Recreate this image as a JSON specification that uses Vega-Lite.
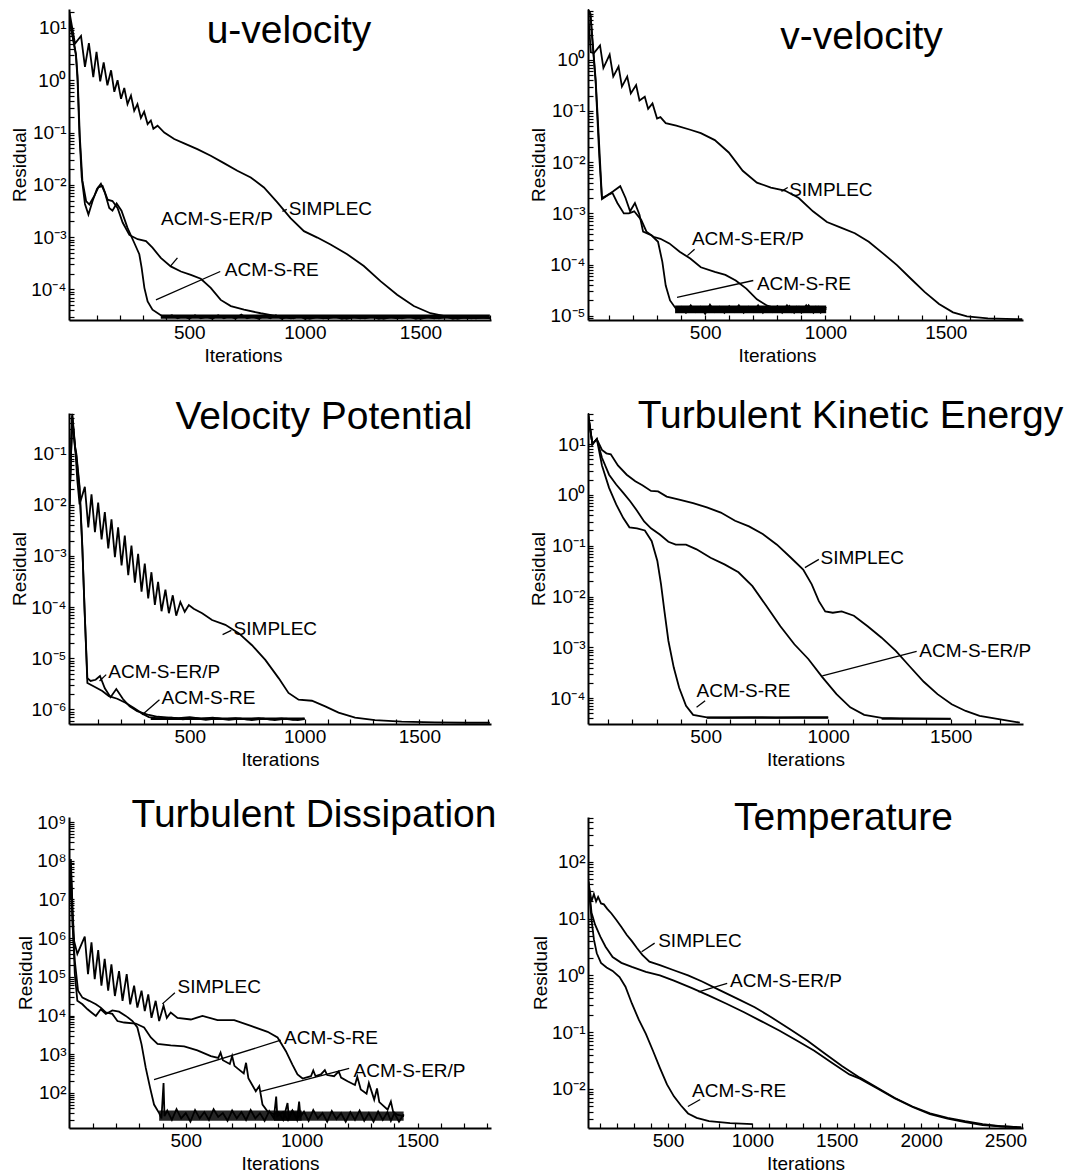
{
"$schema": "https://vega.github.io/schema/vega-lite/v6.json",
"background": "white",
"padding": {"left": 10, "top": 1, "right": 5, "bottom": 2},
"columns": 2,
"spacing": {"row": 93, "column": 97},
"bounds": "flush",
"datasets": {
"u": [
{"series":"SIMPLEC","iter":-18,"res":20},{"series":"SIMPLEC","iter":6,"res":5},{"series":"SIMPLEC","iter":32,"res":7},{"series":"SIMPLEC","iter":49,"res":1.8},{"series":"SIMPLEC","iter":66,"res":5.1},{"series":"SIMPLEC","iter":85,"res":1.15},{"series":"SIMPLEC","iter":99,"res":3.5},{"series":"SIMPLEC","iter":115,"res":0.95},{"series":"SIMPLEC","iter":130,"res":2.2},{"series":"SIMPLEC","iter":146,"res":0.8},{"series":"SIMPLEC","iter":162,"res":1.55},{"series":"SIMPLEC","iter":176,"res":0.6},{"series":"SIMPLEC","iter":190,"res":1.0},{"series":"SIMPLEC","iter":205,"res":0.44},{"series":"SIMPLEC","iter":219,"res":0.71},{"series":"SIMPLEC","iter":233,"res":0.35},{"series":"SIMPLEC","iter":248,"res":0.51},{"series":"SIMPLEC","iter":262,"res":0.26},{"series":"SIMPLEC","iter":276,"res":0.35},{"series":"SIMPLEC","iter":291,"res":0.19},{"series":"SIMPLEC","iter":305,"res":0.25},{"series":"SIMPLEC","iter":320,"res":0.145},{"series":"SIMPLEC","iter":334,"res":0.17},{"series":"SIMPLEC","iter":345,"res":0.118},{"series":"SIMPLEC","iter":363,"res":0.135},{"series":"SIMPLEC","iter":392,"res":0.1},{"series":"SIMPLEC","iter":435,"res":0.075},{"series":"SIMPLEC","iter":478,"res":0.062},{"series":"SIMPLEC","iter":535,"res":0.048},{"series":"SIMPLEC","iter":593,"res":0.036},{"series":"SIMPLEC","iter":650,"res":0.026},{"series":"SIMPLEC","iter":708,"res":0.0186},{"series":"SIMPLEC","iter":766,"res":0.0138},{"series":"SIMPLEC","iter":823,"res":0.0089},{"series":"SIMPLEC","iter":881,"res":0.0046},{"series":"SIMPLEC","iter":938,"res":0.0023},{"series":"SIMPLEC","iter":996,"res":0.0013},{"series":"SIMPLEC","iter":1054,"res":0.00098},{"series":"SIMPLEC","iter":1111,"res":0.00072},{"series":"SIMPLEC","iter":1183,"res":0.00047},{"series":"SIMPLEC","iter":1255,"res":0.00028},{"series":"SIMPLEC","iter":1327,"res":0.000144},{"series":"SIMPLEC","iter":1399,"res":7.9e-5},{"series":"SIMPLEC","iter":1471,"res":4.8e-5},{"series":"SIMPLEC","iter":1543,"res":3.5e-5},{"series":"SIMPLEC","iter":1615,"res":3.0e-5},{"series":"SIMPLEC","iter":1660,"res":2.9e-5},{"series":"SIMPLEC","iter":1710,"res":2.85e-5},{"series":"SIMPLEC","iter":1760,"res":2.9e-5},{"series":"SIMPLEC","iter":1800,"res":2.85e-5},
{"series":"RE","iter":-18,"res":15},{"series":"RE","iter":10,"res":3},{"series":"RE","iter":17,"res":1.0},{"series":"RE","iter":25,"res":0.093},{"series":"RE","iter":35,"res":0.0138},{"series":"RE","iter":49,"res":0.0043},{"series":"RE","iter":64,"res":0.0027},{"series":"RE","iter":82,"res":0.0049},{"series":"RE","iter":101,"res":0.0083},{"series":"RE","iter":118,"res":0.0105},{"series":"RE","iter":135,"res":0.0071},{"series":"RE","iter":154,"res":0.0036},{"series":"RE","iter":168,"res":0.0032},{"series":"RE","iter":186,"res":0.0044},{"series":"RE","iter":207,"res":0.0032},{"series":"RE","iter":233,"res":0.0015},{"series":"RE","iter":262,"res":0.00078},{"series":"RE","iter":284,"res":0.00047},{"series":"RE","iter":294,"res":0.00026},{"series":"RE","iter":306,"res":0.000107},{"series":"RE","iter":320,"res":5.9e-5},{"series":"RE","iter":341,"res":4.1e-5},{"series":"RE","iter":377,"res":3.2e-5},{"series":"RE","iter":400,"res":2.9e-5},{"series":"RE","iter":425,"res":3.2e-5},{"series":"RE","iter":450,"res":2.8e-5},{"series":"RE","iter":475,"res":3.1e-5},{"series":"RE","iter":500,"res":2.75e-5},{"series":"RE","iter":525,"res":3.2e-5},{"series":"RE","iter":550,"res":2.8e-5},{"series":"RE","iter":575,"res":3.0e-5},{"series":"RE","iter":600,"res":2.75e-5},{"series":"RE","iter":625,"res":3.2e-5},{"series":"RE","iter":650,"res":2.8e-5},{"series":"RE","iter":675,"res":3.1e-5},{"series":"RE","iter":700,"res":2.75e-5},{"series":"RE","iter":725,"res":3.3e-5},{"series":"RE","iter":750,"res":2.8e-5},{"series":"RE","iter":775,"res":3.0e-5},{"series":"RE","iter":800,"res":2.75e-5},{"series":"RE","iter":825,"res":3.1e-5},{"series":"RE","iter":850,"res":2.8e-5},{"series":"RE","iter":875,"res":3.2e-5},{"series":"RE","iter":900,"res":2.75e-5},{"series":"RE","iter":925,"res":3.0e-5},{"series":"RE","iter":950,"res":2.8e-5},{"series":"RE","iter":975,"res":3.1e-5},{"series":"RE","iter":1000,"res":2.75e-5},{"series":"RE","iter":1040,"res":3.0e-5},{"series":"RE","iter":1080,"res":2.8e-5},{"series":"RE","iter":1120,"res":3.1e-5},{"series":"RE","iter":1160,"res":2.75e-5},{"series":"RE","iter":1200,"res":3.0e-5},{"series":"RE","iter":1240,"res":2.8e-5},{"series":"RE","iter":1280,"res":3.1e-5},{"series":"RE","iter":1320,"res":2.75e-5},{"series":"RE","iter":1360,"res":3.0e-5},{"series":"RE","iter":1400,"res":2.8e-5},{"series":"RE","iter":1440,"res":3.1e-5},{"series":"RE","iter":1480,"res":2.75e-5},{"series":"RE","iter":1520,"res":3.0e-5},{"series":"RE","iter":1560,"res":2.8e-5},{"series":"RE","iter":1600,"res":3.1e-5},{"series":"RE","iter":1640,"res":2.75e-5},{"series":"RE","iter":1680,"res":3.0e-5},{"series":"RE","iter":1720,"res":2.8e-5},{"series":"RE","iter":1760,"res":3.0e-5},{"series":"RE","iter":1800,"res":2.8e-5},
{"series":"ERP","iter":-18,"res":15},{"series":"ERP","iter":10,"res":3.2},{"series":"ERP","iter":17,"res":1.2},{"series":"ERP","iter":27,"res":0.08},{"series":"ERP","iter":38,"res":0.012},{"series":"ERP","iter":54,"res":0.0049},{"series":"ERP","iter":68,"res":0.0042},{"series":"ERP","iter":90,"res":0.0062},{"series":"ERP","iter":107,"res":0.0089},{"series":"ERP","iter":125,"res":0.0095},{"series":"ERP","iter":147,"res":0.0052},{"series":"ERP","iter":168,"res":0.0049},{"series":"ERP","iter":190,"res":0.0036},{"series":"ERP","iter":212,"res":0.0019},{"series":"ERP","iter":241,"res":0.0011},{"series":"ERP","iter":277,"res":0.00091},{"series":"ERP","iter":313,"res":0.00084},{"series":"ERP","iter":341,"res":0.00063},{"series":"ERP","iter":377,"res":0.0004},{"series":"ERP","iter":420,"res":0.000275},{"series":"ERP","iter":464,"res":0.00022},{"series":"ERP","iter":507,"res":0.00019},{"series":"ERP","iter":550,"res":0.00016},{"series":"ERP","iter":593,"res":0.000107},{"series":"ERP","iter":636,"res":6.3e-5},{"series":"ERP","iter":680,"res":4.8e-5},{"series":"ERP","iter":737,"res":4.1e-5},{"series":"ERP","iter":809,"res":3.5e-5},{"series":"ERP","iter":860,"res":3.2e-5},{"series":"ERP","iter":900,"res":3.0e-5},{"series":"ERP","iter":940,"res":2.8e-5},{"series":"ERP","iter":980,"res":3.1e-5},{"series":"ERP","iter":1020,"res":2.75e-5},{"series":"ERP","iter":1060,"res":3.0e-5},{"series":"ERP","iter":1100,"res":2.8e-5},{"series":"ERP","iter":1140,"res":3.1e-5},{"series":"ERP","iter":1180,"res":2.75e-5},{"series":"ERP","iter":1220,"res":3.0e-5},{"series":"ERP","iter":1260,"res":2.8e-5},{"series":"ERP","iter":1300,"res":3.1e-5},{"series":"ERP","iter":1340,"res":2.75e-5},{"series":"ERP","iter":1380,"res":3.0e-5},{"series":"ERP","iter":1420,"res":2.8e-5},{"series":"ERP","iter":1460,"res":3.1e-5},{"series":"ERP","iter":1500,"res":2.75e-5},{"series":"ERP","iter":1540,"res":3.0e-5},{"series":"ERP","iter":1580,"res":2.8e-5},{"series":"ERP","iter":1620,"res":3.1e-5},{"series":"ERP","iter":1660,"res":2.75e-5},{"series":"ERP","iter":1700,"res":3.0e-5},{"series":"ERP","iter":1740,"res":2.8e-5},{"series":"ERP","iter":1780,"res":3.0e-5},{"series":"ERP","iter":1800,"res":2.8e-5}
],
"bu": [{"from":377,"to":1800,"lo":2.75e-5,"hi":3.3e-5}],
"au": [
{"label":"SIMPLEC","iter":930,"res":0.0035,"x1":903,"y1":0.0031,"x2":922,"y2":0.0034},
{"label":"ACM-S-ER/P","iter":378,"res":0.0022,"x1":418,"y1":0.000275,"x2":449,"y2":0.0004},
{"label":"ACM-S-RE","iter":654,"res":0.00024,"x1":356,"y1":6.3e-5,"x2":634,"y2":0.00022}
],
"v": [
{"series":"SIMPLEC","iter":13,"res":9.5},{"series":"SIMPLEC","iter":20,"res":3},{"series":"SIMPLEC","iter":25,"res":1.4},{"series":"SIMPLEC","iter":38,"res":1.35},{"series":"SIMPLEC","iter":63,"res":1.9},{"series":"SIMPLEC","iter":77,"res":0.69},{"series":"SIMPLEC","iter":103,"res":1.26},{"series":"SIMPLEC","iter":118,"res":0.47},{"series":"SIMPLEC","iter":140,"res":0.74},{"series":"SIMPLEC","iter":154,"res":0.3},{"series":"SIMPLEC","iter":176,"res":0.47},{"series":"SIMPLEC","iter":191,"res":0.22},{"series":"SIMPLEC","iter":213,"res":0.32},{"series":"SIMPLEC","iter":227,"res":0.16},{"series":"SIMPLEC","iter":249,"res":0.19},{"series":"SIMPLEC","iter":263,"res":0.11},{"series":"SIMPLEC","iter":281,"res":0.14},{"series":"SIMPLEC","iter":300,"res":0.071},{"series":"SIMPLEC","iter":314,"res":0.076},{"series":"SIMPLEC","iter":336,"res":0.058},{"series":"SIMPLEC","iter":380,"res":0.052},{"series":"SIMPLEC","iter":438,"res":0.043},{"series":"SIMPLEC","iter":482,"res":0.037},{"series":"SIMPLEC","iter":540,"res":0.027},{"series":"SIMPLEC","iter":598,"res":0.0155},{"series":"SIMPLEC","iter":656,"res":0.0068},{"series":"SIMPLEC","iter":715,"res":0.004},{"series":"SIMPLEC","iter":773,"res":0.0032},{"series":"SIMPLEC","iter":831,"res":0.0028},{"series":"SIMPLEC","iter":889,"res":0.002},{"series":"SIMPLEC","iter":948,"res":0.0011},{"series":"SIMPLEC","iter":1006,"res":0.00068},{"series":"SIMPLEC","iter":1064,"res":0.00053},{"series":"SIMPLEC","iter":1122,"res":0.00041},{"series":"SIMPLEC","iter":1180,"res":0.00028},{"series":"SIMPLEC","iter":1239,"res":0.000166},{"series":"SIMPLEC","iter":1297,"res":9.8e-5},{"series":"SIMPLEC","iter":1355,"res":5.3e-5},{"series":"SIMPLEC","iter":1413,"res":2.9e-5},{"series":"SIMPLEC","iter":1472,"res":1.7e-5},{"series":"SIMPLEC","iter":1530,"res":1.17e-5},{"series":"SIMPLEC","iter":1588,"res":9.8e-6},{"series":"SIMPLEC","iter":1675,"res":8.9e-6},{"series":"SIMPLEC","iter":1750,"res":8.7e-6},{"series":"SIMPLEC","iter":1818,"res":8.6e-6},
{"series":"RE","iter":13,"res":9.5},{"series":"RE","iter":23,"res":8},{"series":"RE","iter":45,"res":0.4},{"series":"RE","iter":60,"res":0.0195},{"series":"RE","iter":71,"res":0.002},{"series":"RE","iter":89,"res":0.0022},{"series":"RE","iter":118,"res":0.0027},{"series":"RE","iter":147,"res":0.0034},{"series":"RE","iter":169,"res":0.002},{"series":"RE","iter":188,"res":0.0011},{"series":"RE","iter":208,"res":0.0016},{"series":"RE","iter":227,"res":0.00094},{"series":"RE","iter":242,"res":0.00044},{"series":"RE","iter":278,"res":0.00037},{"series":"RE","iter":304,"res":0.00028},{"series":"RE","iter":322,"res":0.000113},{"series":"RE","iter":336,"res":3.9e-5},{"series":"RE","iter":354,"res":2.0e-5},{"series":"RE","iter":380,"res":1.35e-5},{"series":"RE","iter":400,"res":1.5e-5},{"series":"RE","iter":420,"res":1.15e-5},{"series":"RE","iter":440,"res":1.6e-5},{"series":"RE","iter":460,"res":1.2e-5},{"series":"RE","iter":480,"res":1.5e-5},{"series":"RE","iter":500,"res":1.1e-5},{"series":"RE","iter":520,"res":1.65e-5},{"series":"RE","iter":540,"res":1.2e-5},{"series":"RE","iter":560,"res":1.5e-5},{"series":"RE","iter":580,"res":1.15e-5},{"series":"RE","iter":600,"res":1.55e-5},{"series":"RE","iter":620,"res":1.2e-5},{"series":"RE","iter":640,"res":1.6e-5},{"series":"RE","iter":660,"res":1.15e-5},{"series":"RE","iter":680,"res":1.5e-5},{"series":"RE","iter":700,"res":1.2e-5},{"series":"RE","iter":720,"res":1.6e-5},{"series":"RE","iter":740,"res":1.15e-5},{"series":"RE","iter":760,"res":1.5e-5},{"series":"RE","iter":780,"res":1.2e-5},{"series":"RE","iter":800,"res":1.55e-5},{"series":"RE","iter":820,"res":1.15e-5},{"series":"RE","iter":840,"res":1.6e-5},{"series":"RE","iter":860,"res":1.2e-5},{"series":"RE","iter":880,"res":1.5e-5},{"series":"RE","iter":900,"res":1.15e-5},{"series":"RE","iter":920,"res":1.6e-5},{"series":"RE","iter":940,"res":1.2e-5},{"series":"RE","iter":960,"res":1.5e-5},{"series":"RE","iter":980,"res":1.15e-5},{"series":"RE","iter":1003,"res":1.5e-5},
{"series":"ERP","iter":13,"res":9.5},{"series":"ERP","iter":23,"res":7.5},{"series":"ERP","iter":45,"res":0.35},{"series":"ERP","iter":60,"res":0.0125},{"series":"ERP","iter":71,"res":0.0019},{"series":"ERP","iter":96,"res":0.0023},{"series":"ERP","iter":115,"res":0.0025},{"series":"ERP","iter":135,"res":0.0016},{"series":"ERP","iter":162,"res":0.001},{"series":"ERP","iter":183,"res":0.001},{"series":"ERP","iter":205,"res":0.0011},{"series":"ERP","iter":234,"res":0.00075},{"series":"ERP","iter":256,"res":0.00044},{"series":"ERP","iter":285,"res":0.00035},{"series":"ERP","iter":314,"res":0.00032},{"series":"ERP","iter":351,"res":0.00026},{"series":"ERP","iter":394,"res":0.000178},{"series":"ERP","iter":438,"res":0.000132},{"series":"ERP","iter":482,"res":8.9e-5},{"series":"ERP","iter":540,"res":7.2e-5},{"series":"ERP","iter":584,"res":6.3e-5},{"series":"ERP","iter":627,"res":4.9e-5},{"series":"ERP","iter":671,"res":3.4e-5},{"series":"ERP","iter":715,"res":2.1e-5},{"series":"ERP","iter":758,"res":1.58e-5},{"series":"ERP","iter":817,"res":1.3e-5},{"series":"ERP","iter":835,"res":1.2e-5},{"series":"ERP","iter":850,"res":1.55e-5},{"series":"ERP","iter":870,"res":1.15e-5},{"series":"ERP","iter":890,"res":1.5e-5},{"series":"ERP","iter":910,"res":1.2e-5},{"series":"ERP","iter":930,"res":1.6e-5},{"series":"ERP","iter":950,"res":1.15e-5},{"series":"ERP","iter":970,"res":1.5e-5},{"series":"ERP","iter":990,"res":1.2e-5},{"series":"ERP","iter":1003,"res":1.4e-5}
],
"bv": [{"from":375,"to":1003,"lo":1.12e-5,"hi":1.6e-5}],
"av": [
{"label":"SIMPLEC","iter":849,"res":0.0029,"x1":817,"y1":0.0027,"x2":843,"y2":0.0032},
{"label":"ACM-S-ER/P","iter":445,"res":0.00032,"x1":426,"y1":0.00015,"x2":456,"y2":0.0002},
{"label":"ACM-S-RE","iter":715,"res":4.2e-5,"x1":383,"y1":2.3e-5,"x2":700,"y2":4.9e-5}
],
"vp": [
{"series":"SIMPLEC","iter":-24,"res":0.01},{"series":"SIMPLEC","iter":-12,"res":0.6},{"series":"SIMPLEC","iter":0,"res":0.15},{"series":"SIMPLEC","iter":10,"res":0.031},{"series":"SIMPLEC","iter":20,"res":0.0102},{"series":"SIMPLEC","iter":43,"res":0.0224},{"series":"SIMPLEC","iter":58,"res":0.0036},{"series":"SIMPLEC","iter":72,"res":0.0159},{"series":"SIMPLEC","iter":87,"res":0.0029},{"series":"SIMPLEC","iter":101,"res":0.011},{"series":"SIMPLEC","iter":116,"res":0.0021},{"series":"SIMPLEC","iter":130,"res":0.0072},{"series":"SIMPLEC","iter":145,"res":0.0014},{"series":"SIMPLEC","iter":159,"res":0.0052},{"series":"SIMPLEC","iter":174,"res":0.00095},{"series":"SIMPLEC","iter":188,"res":0.0036},{"series":"SIMPLEC","iter":203,"res":0.00065},{"series":"SIMPLEC","iter":217,"res":0.0025},{"series":"SIMPLEC","iter":232,"res":0.00042},{"series":"SIMPLEC","iter":246,"res":0.0016},{"series":"SIMPLEC","iter":261,"res":0.0003},{"series":"SIMPLEC","iter":275,"res":0.0011},{"series":"SIMPLEC","iter":290,"res":0.0002},{"series":"SIMPLEC","iter":304,"res":0.00071},{"series":"SIMPLEC","iter":319,"res":0.000148},{"series":"SIMPLEC","iter":333,"res":0.00048},{"series":"SIMPLEC","iter":348,"res":0.00011},{"series":"SIMPLEC","iter":362,"res":0.00031},{"series":"SIMPLEC","iter":377,"res":8.3e-5},{"series":"SIMPLEC","iter":394,"res":0.00022},{"series":"SIMPLEC","iter":409,"res":7.6e-5},{"series":"SIMPLEC","iter":426,"res":0.00017},{"series":"SIMPLEC","iter":441,"res":6.8e-5},{"series":"SIMPLEC","iter":459,"res":0.000126},{"series":"SIMPLEC","iter":478,"res":8.1e-5},{"series":"SIMPLEC","iter":496,"res":0.00011},{"series":"SIMPLEC","iter":517,"res":9.3e-5},{"series":"SIMPLEC","iter":554,"res":7.6e-5},{"series":"SIMPLEC","iter":597,"res":5.6e-5},{"series":"SIMPLEC","iter":655,"res":4.5e-5},{"series":"SIMPLEC","iter":713,"res":3.1e-5},{"series":"SIMPLEC","iter":771,"res":1.8e-5},{"series":"SIMPLEC","iter":829,"res":9.3e-6},{"series":"SIMPLEC","iter":887,"res":4.1e-6},{"series":"SIMPLEC","iter":930,"res":2.1e-6},{"series":"SIMPLEC","iter":974,"res":1.55e-6},{"series":"SIMPLEC","iter":1032,"res":1.48e-6},{"series":"SIMPLEC","iter":1090,"res":1.15e-6},{"series":"SIMPLEC","iter":1148,"res":8.7e-7},{"series":"SIMPLEC","iter":1220,"res":6.9e-7},{"series":"SIMPLEC","iter":1307,"res":6.2e-7},{"series":"SIMPLEC","iter":1423,"res":5.8e-7},{"series":"SIMPLEC","iter":1568,"res":5.6e-7},{"series":"SIMPLEC","iter":1700,"res":5.5e-7},{"series":"SIMPLEC","iter":1807,"res":5.5e-7},
{"series":"ERP","iter":-24,"res":0.01},{"series":"ERP","iter":-12,"res":0.55},{"series":"ERP","iter":0,"res":0.14},{"series":"ERP","iter":6,"res":0.1},{"series":"ERP","iter":20,"res":0.023},{"series":"ERP","iter":32,"res":0.0016},{"series":"ERP","iter":42,"res":8.1e-5},{"series":"ERP","iter":54,"res":4.1e-6},{"series":"ERP","iter":68,"res":3.6e-6},{"series":"ERP","iter":90,"res":3.8e-6},{"series":"ERP","iter":109,"res":4.5e-6},{"series":"ERP","iter":130,"res":2.6e-6},{"series":"ERP","iter":155,"res":1.74e-6},{"series":"ERP","iter":180,"res":2.5e-6},{"series":"ERP","iter":209,"res":1.6e-6},{"series":"ERP","iter":238,"res":1.15e-6},{"series":"ERP","iter":271,"res":9.3e-7},{"series":"ERP","iter":322,"res":7.8e-7},{"series":"ERP","iter":360,"res":7.2e-7},{"series":"ERP","iter":400,"res":7.0e-7},{"series":"ERP","iter":450,"res":6.8e-7},{"series":"ERP","iter":500,"res":7.1e-7},{"series":"ERP","iter":550,"res":6.6e-7},{"series":"ERP","iter":600,"res":6.9e-7},{"series":"ERP","iter":650,"res":6.5e-7},{"series":"ERP","iter":700,"res":6.8e-7},{"series":"ERP","iter":750,"res":6.4e-7},{"series":"ERP","iter":800,"res":6.8e-7},{"series":"ERP","iter":850,"res":6.4e-7},{"series":"ERP","iter":900,"res":6.7e-7},{"series":"ERP","iter":950,"res":6.3e-7},{"series":"ERP","iter":1000,"res":6.6e-7},
{"series":"RE","iter":-24,"res":0.01},{"series":"RE","iter":-12,"res":0.5},{"series":"RE","iter":0,"res":0.13},{"series":"RE","iter":6,"res":0.09},{"series":"RE","iter":20,"res":0.02},{"series":"RE","iter":32,"res":0.0014},{"series":"RE","iter":42,"res":9e-5},{"series":"RE","iter":54,"res":3.3e-6},{"series":"RE","iter":83,"res":2.8e-6},{"series":"RE","iter":119,"res":2.3e-6},{"series":"RE","iter":148,"res":1.82e-6},{"series":"RE","iter":184,"res":1.62e-6},{"series":"RE","iter":220,"res":1.35e-6},{"series":"RE","iter":257,"res":1.07e-6},{"series":"RE","iter":293,"res":8.3e-7},{"series":"RE","iter":322,"res":7.1e-7},{"series":"RE","iter":370,"res":6.6e-7},{"series":"RE","iter":420,"res":6.9e-7},{"series":"RE","iter":470,"res":6.4e-7},{"series":"RE","iter":520,"res":6.8e-7},{"series":"RE","iter":570,"res":6.3e-7},{"series":"RE","iter":620,"res":6.7e-7},{"series":"RE","iter":670,"res":6.3e-7},{"series":"RE","iter":720,"res":6.6e-7},{"series":"RE","iter":770,"res":6.2e-7},{"series":"RE","iter":820,"res":6.6e-7},{"series":"RE","iter":870,"res":6.2e-7},{"series":"RE","iter":920,"res":6.6e-7},{"series":"RE","iter":970,"res":6.2e-7},{"series":"RE","iter":1000,"res":6.5e-7}
],
"bvp": [{"from":330,"to":1000,"lo":6.2e-7,"hi":7.0e-7}],
"avp": [
{"label":"SIMPLEC","iter":691,"res":3.8e-5,"x1":643,"y1":2.9e-5,"x2":681,"y2":3.5e-5},
{"label":"ACM-S-ER/P","iter":145,"res":5.5e-6,"x1":107,"y1":3.6e-6,"x2":136,"y2":4.8e-6},
{"label":"ACM-S-RE","iter":377,"res":1.7e-6,"x1":293,"y1":7.9e-7,"x2":368,"y2":1.55e-6}
],
"tke": [
{"series":"SIMPLEC","iter":20,"res":40},{"series":"SIMPLEC","iter":38,"res":10},{"series":"SIMPLEC","iter":56,"res":12.6},{"series":"SIMPLEC","iter":77,"res":7.7},{"series":"SIMPLEC","iter":95,"res":6.6},{"series":"SIMPLEC","iter":113,"res":6.3},{"series":"SIMPLEC","iter":142,"res":3.8},{"series":"SIMPLEC","iter":178,"res":2.5},{"series":"SIMPLEC","iter":213,"res":1.86},{"series":"SIMPLEC","iter":242,"res":1.55},{"series":"SIMPLEC","iter":277,"res":1.2},{"series":"SIMPLEC","iter":306,"res":1.17},{"series":"SIMPLEC","iter":341,"res":0.93},{"series":"SIMPLEC","iter":392,"res":0.81},{"series":"SIMPLEC","iter":449,"res":0.69},{"series":"SIMPLEC","iter":505,"res":0.57},{"series":"SIMPLEC","iter":562,"res":0.45},{"series":"SIMPLEC","iter":620,"res":0.31},{"series":"SIMPLEC","iter":677,"res":0.24},{"series":"SIMPLEC","iter":733,"res":0.17},{"series":"SIMPLEC","iter":791,"res":0.105},{"series":"SIMPLEC","iter":848,"res":0.058},{"series":"SIMPLEC","iter":898,"res":0.034},{"series":"SIMPLEC","iter":933,"res":0.0174},{"series":"SIMPLEC","iter":962,"res":0.0081},{"series":"SIMPLEC","iter":988,"res":0.0051},{"series":"SIMPLEC","iter":1019,"res":0.0048},{"series":"SIMPLEC","iter":1055,"res":0.0051},{"series":"SIMPLEC","iter":1105,"res":0.0042},{"series":"SIMPLEC","iter":1161,"res":0.0026},{"series":"SIMPLEC","iter":1218,"res":0.00155},{"series":"SIMPLEC","iter":1276,"res":0.00085},{"series":"SIMPLEC","iter":1333,"res":0.00042},{"series":"SIMPLEC","iter":1390,"res":0.00021},{"series":"SIMPLEC","iter":1446,"res":0.00012},{"series":"SIMPLEC","iter":1504,"res":7.6e-5},{"series":"SIMPLEC","iter":1561,"res":5.6e-5},{"series":"SIMPLEC","iter":1618,"res":4.5e-5},{"series":"SIMPLEC","iter":1690,"res":3.9e-5},{"series":"SIMPLEC","iter":1782,"res":3.3e-5},
{"series":"ERP","iter":20,"res":40},{"series":"ERP","iter":38,"res":10},{"series":"ERP","iter":56,"res":12.6},{"series":"ERP","iter":77,"res":5.4},{"series":"ERP","iter":106,"res":2.5},{"series":"ERP","iter":135,"res":1.6},{"series":"ERP","iter":164,"res":1.1},{"series":"ERP","iter":192,"res":0.75},{"series":"ERP","iter":220,"res":0.49},{"series":"ERP","iter":249,"res":0.3},{"series":"ERP","iter":277,"res":0.22},{"series":"ERP","iter":313,"res":0.166},{"series":"ERP","iter":348,"res":0.12},{"series":"ERP","iter":378,"res":0.105},{"series":"ERP","iter":420,"res":0.105},{"series":"ERP","iter":463,"res":0.085},{"series":"ERP","iter":520,"res":0.058},{"series":"ERP","iter":577,"res":0.043},{"series":"ERP","iter":634,"res":0.03},{"series":"ERP","iter":691,"res":0.016},{"series":"ERP","iter":748,"res":0.0065},{"series":"ERP","iter":805,"res":0.0026},{"series":"ERP","iter":862,"res":0.00115},{"series":"ERP","iter":919,"res":0.00059},{"series":"ERP","iter":976,"res":0.00026},{"series":"ERP","iter":1034,"res":0.00012},{"series":"ERP","iter":1090,"res":6.6e-5},{"series":"ERP","iter":1147,"res":4.7e-5},{"series":"ERP","iter":1218,"res":4.1e-5},{"series":"ERP","iter":1293,"res":4.0e-5},{"series":"ERP","iter":1395,"res":3.95e-5},{"series":"ERP","iter":1500,"res":3.9e-5},
{"series":"RE","iter":20,"res":40},{"series":"RE","iter":38,"res":10},{"series":"RE","iter":56,"res":12.6},{"series":"RE","iter":77,"res":3.8},{"series":"RE","iter":106,"res":1.38},{"series":"RE","iter":135,"res":0.65},{"series":"RE","iter":164,"res":0.35},{"series":"RE","iter":189,"res":0.23},{"series":"RE","iter":220,"res":0.22},{"series":"RE","iter":252,"res":0.2},{"series":"RE","iter":280,"res":0.123},{"series":"RE","iter":303,"res":0.05},{"series":"RE","iter":318,"res":0.0174},{"series":"RE","iter":332,"res":0.0051},{"series":"RE","iter":348,"res":0.00135},{"series":"RE","iter":370,"res":0.0004},{"series":"RE","iter":392,"res":0.00016},{"series":"RE","iter":420,"res":7.1e-5},{"series":"RE","iter":449,"res":4.7e-5},{"series":"RE","iter":505,"res":4.2e-5},{"series":"RE","iter":583,"res":4.15e-5},{"series":"RE","iter":685,"res":4.2e-5},{"series":"RE","iter":786,"res":4.15e-5},{"series":"RE","iter":888,"res":4.2e-5},{"series":"RE","iter":1000,"res":4.2e-5}
],
"btke": [{"from":505,"to":1000,"lo":3.95e-5,"hi":4.35e-5},{"from":1218,"to":1500,"lo":3.75e-5,"hi":4.1e-5}],
"atke": [
{"label":"SIMPLEC","iter":969,"res":0.058,"x1":905,"y1":0.037,"x2":962,"y2":0.054},
{"label":"ACM-S-ER/P","iter":1372,"res":0.00083,"x1":976,"y1":0.000275,"x2":1361,"y2":0.00083},
{"label":"ACM-S-RE","iter":463,"res":0.000138,"x1":463,"y1":6.6e-5,"x2":498,"y2":8.9e-5}
],
"td": [
{"series":"SIMPLEC","iter":0,"res":2e7},{"series":"SIMPLEC","iter":4,"res":1.1e8},{"series":"SIMPLEC","iter":11,"res":6.3e6},{"series":"SIMPLEC","iter":18,"res":8.5e5},{"series":"SIMPLEC","iter":32,"res":3.9e5},{"series":"SIMPLEC","iter":50,"res":7.0e5},{"series":"SIMPLEC","iter":64,"res":1.1e6},{"series":"SIMPLEC","iter":78,"res":1.17e5},{"series":"SIMPLEC","iter":93,"res":7.8e5},{"series":"SIMPLEC","iter":107,"res":8.7e4},{"series":"SIMPLEC","iter":122,"res":4.9e5},{"series":"SIMPLEC","iter":136,"res":5.9e4},{"series":"SIMPLEC","iter":150,"res":2.9e5},{"series":"SIMPLEC","iter":165,"res":4.4e4},{"series":"SIMPLEC","iter":179,"res":2.1e5},{"series":"SIMPLEC","iter":194,"res":3.2e4},{"series":"SIMPLEC","iter":212,"res":1.4e5},{"series":"SIMPLEC","iter":227,"res":2.4e4},{"series":"SIMPLEC","iter":245,"res":1.17e5},{"series":"SIMPLEC","iter":260,"res":1.95e4},{"series":"SIMPLEC","iter":277,"res":5.9e4},{"series":"SIMPLEC","iter":291,"res":1.6e4},{"series":"SIMPLEC","iter":309,"res":4.4e4},{"series":"SIMPLEC","iter":323,"res":1.3e4},{"series":"SIMPLEC","iter":338,"res":3.5e4},{"series":"SIMPLEC","iter":352,"res":8.7e3},{"series":"SIMPLEC","iter":370,"res":2.4e4},{"series":"SIMPLEC","iter":385,"res":7.2e3},{"series":"SIMPLEC","iter":404,"res":1.8e4},{"series":"SIMPLEC","iter":418,"res":8.7e3},{"series":"SIMPLEC","iter":435,"res":1.2e4},{"series":"SIMPLEC","iter":464,"res":8.7e3},{"series":"SIMPLEC","iter":522,"res":7.9e3},{"series":"SIMPLEC","iter":572,"res":9.8e3},{"series":"SIMPLEC","iter":637,"res":7.6e3},{"series":"SIMPLEC","iter":709,"res":7.6e3},{"series":"SIMPLEC","iter":781,"res":5.4e3},{"series":"SIMPLEC","iter":853,"res":3.8e3},{"series":"SIMPLEC","iter":896,"res":2.7e3},{"series":"SIMPLEC","iter":932,"res":1.2e3},{"series":"SIMPLEC","iter":960,"res":540},{"series":"SIMPLEC","iter":982,"res":300},{"series":"SIMPLEC","iter":1004,"res":235},{"series":"SIMPLEC","iter":1040,"res":270},{"series":"SIMPLEC","iter":1050,"res":380},{"series":"SIMPLEC","iter":1060,"res":270},{"series":"SIMPLEC","iter":1083,"res":300},{"series":"SIMPLEC","iter":1100,"res":390},{"series":"SIMPLEC","iter":1110,"res":290},{"series":"SIMPLEC","iter":1140,"res":270},{"series":"SIMPLEC","iter":1160,"res":360},{"series":"SIMPLEC","iter":1170,"res":250},{"series":"SIMPLEC","iter":1198,"res":200},{"series":"SIMPLEC","iter":1230,"res":160},{"series":"SIMPLEC","iter":1240,"res":260},{"series":"SIMPLEC","iter":1255,"res":122},{"series":"SIMPLEC","iter":1280,"res":95},{"series":"SIMPLEC","iter":1290,"res":180},{"series":"SIMPLEC","iter":1313,"res":67},{"series":"SIMPLEC","iter":1325,"res":130},{"series":"SIMPLEC","iter":1335,"res":58},{"series":"SIMPLEC","iter":1371,"res":37},{"series":"SIMPLEC","iter":1385,"res":60},{"series":"SIMPLEC","iter":1395,"res":32},{"series":"SIMPLEC","iter":1414,"res":27},{"series":"SIMPLEC","iter":1442,"res":25},
{"series":"ERP","iter":0,"res":1e7},{"series":"ERP","iter":4,"res":4.6e7},{"series":"ERP","iter":11,"res":2.3e6},{"series":"ERP","iter":21,"res":2.6e5},{"series":"ERP","iter":35,"res":4.4e4},{"series":"ERP","iter":54,"res":2.9e4},{"series":"ERP","iter":83,"res":2.4e4},{"series":"ERP","iter":112,"res":1.95e4},{"series":"ERP","iter":133,"res":1.6e4},{"series":"ERP","iter":155,"res":1.2e4},{"series":"ERP","iter":183,"res":1.1e4},{"series":"ERP","iter":205,"res":7.2e3},{"series":"ERP","iter":234,"res":6.6e3},{"series":"ERP","iter":284,"res":6.2e3},{"series":"ERP","iter":320,"res":4.9e3},{"series":"ERP","iter":349,"res":2.7e3},{"series":"ERP","iter":378,"res":1.86e3},{"series":"ERP","iter":435,"res":1.7e3},{"series":"ERP","iter":493,"res":1.6e3},{"series":"ERP","iter":550,"res":1.26e3},{"series":"ERP","iter":608,"res":890},{"series":"ERP","iter":640,"res":800},{"series":"ERP","iter":650,"res":1100},{"series":"ERP","iter":660,"res":700},{"series":"ERP","iter":690,"res":560},{"series":"ERP","iter":700,"res":900},{"series":"ERP","iter":710,"res":500},{"series":"ERP","iter":723,"res":430},{"series":"ERP","iter":750,"res":320},{"series":"ERP","iter":760,"res":600},{"series":"ERP","iter":770,"res":240},{"series":"ERP","iter":802,"res":110},{"series":"ERP","iter":817,"res":150},{"series":"ERP","iter":825,"res":80},{"series":"ERP","iter":831,"res":50},{"series":"ERP","iter":853,"res":33},{"series":"ERP","iter":881,"res":28},{"series":"ERP","iter":900,"res":32},{"series":"ERP","iter":920,"res":20},{"series":"ERP","iter":939,"res":55},{"series":"ERP","iter":945,"res":22},{"series":"ERP","iter":960,"res":35},{"series":"ERP","iter":980,"res":20},{"series":"ERP","iter":989,"res":60},{"series":"ERP","iter":995,"res":24},{"series":"ERP","iter":1010,"res":33},{"series":"ERP","iter":1030,"res":19},{"series":"ERP","iter":1050,"res":36},{"series":"ERP","iter":1070,"res":22},{"series":"ERP","iter":1090,"res":30},{"series":"ERP","iter":1110,"res":18},{"series":"ERP","iter":1130,"res":34},{"series":"ERP","iter":1150,"res":21},{"series":"ERP","iter":1170,"res":30},{"series":"ERP","iter":1190,"res":18},{"series":"ERP","iter":1210,"res":32},{"series":"ERP","iter":1230,"res":20},{"series":"ERP","iter":1250,"res":35},{"series":"ERP","iter":1270,"res":19},{"series":"ERP","iter":1290,"res":30},{"series":"ERP","iter":1310,"res":18},{"series":"ERP","iter":1330,"res":33},{"series":"ERP","iter":1350,"res":20},{"series":"ERP","iter":1370,"res":32},{"series":"ERP","iter":1385,"res":19},{"series":"ERP","iter":1400,"res":30},{"series":"ERP","iter":1420,"res":18},{"series":"ERP","iter":1440,"res":28},
{"series":"RE","iter":0,"res":3e7},{"series":"RE","iter":4,"res":6.8e7},{"series":"RE","iter":11,"res":4.2e6},{"series":"RE","iter":21,"res":1.2e5},{"series":"RE","iter":32,"res":2.4e4},{"series":"RE","iter":54,"res":1.95e4},{"series":"RE","iter":76,"res":1.45e4},{"series":"RE","iter":93,"res":1.2e4},{"series":"RE","iter":112,"res":9.8e3},{"series":"RE","iter":133,"res":1.45e4},{"series":"RE","iter":155,"res":1.1e4},{"series":"RE","iter":183,"res":1.36e4},{"series":"RE","iter":212,"res":1.26e4},{"series":"RE","iter":241,"res":9.8e3},{"series":"RE","iter":270,"res":7.2e3},{"series":"RE","iter":291,"res":4.9e3},{"series":"RE","iter":309,"res":1.8e3},{"series":"RE","iter":327,"res":450},{"series":"RE","iter":346,"res":135},{"series":"RE","iter":363,"res":50},{"series":"RE","iter":385,"res":30},{"series":"RE","iter":395,"res":22},{"series":"RE","iter":404,"res":180},{"series":"RE","iter":408,"res":25},{"series":"RE","iter":420,"res":35},{"series":"RE","iter":440,"res":20},{"series":"RE","iter":460,"res":38},{"series":"RE","iter":480,"res":22},{"series":"RE","iter":500,"res":30},{"series":"RE","iter":520,"res":18},{"series":"RE","iter":540,"res":36},{"series":"RE","iter":560,"res":22},{"series":"RE","iter":580,"res":32},{"series":"RE","iter":600,"res":20},{"series":"RE","iter":620,"res":38},{"series":"RE","iter":640,"res":24},{"series":"RE","iter":660,"res":30},{"series":"RE","iter":680,"res":19},{"series":"RE","iter":700,"res":35},{"series":"RE","iter":720,"res":22},{"series":"RE","iter":740,"res":32},{"series":"RE","iter":760,"res":20},{"series":"RE","iter":780,"res":36},{"series":"RE","iter":800,"res":22},{"series":"RE","iter":820,"res":30},{"series":"RE","iter":840,"res":19},{"series":"RE","iter":860,"res":34},{"series":"RE","iter":880,"res":22},{"series":"RE","iter":890,"res":80},{"series":"RE","iter":895,"res":25},{"series":"RE","iter":920,"res":32},{"series":"RE","iter":940,"res":20},{"series":"RE","iter":960,"res":35},{"series":"RE","iter":980,"res":22},{"series":"RE","iter":1000,"res":30}
],
"btd": [{"from":385,"to":1000,"lo":19,"hi":35},{"from":881,"to":1440,"lo":19,"hi":33}],
"atd": [
{"label":"SIMPLEC","iter":464,"res":5.3e4,"x1":399,"y1":2.0e4,"x2":453,"y2":3.9e4},
{"label":"ACM-S-RE","iter":924,"res":2700,"x1":363,"y1":220,"x2":910,"y2":2300},
{"label":"ACM-S-ER/P","iter":1224,"res":365,"x1":824,"y1":110,"x2":1205,"y2":430}
],
"t": [
{"series":"SIMPLEC","iter":28,"res":45},{"series":"SIMPLEC","iter":47,"res":20},{"series":"SIMPLEC","iter":61,"res":27},{"series":"SIMPLEC","iter":74,"res":20},{"series":"SIMPLEC","iter":86,"res":24},{"series":"SIMPLEC","iter":103,"res":18.5},{"series":"SIMPLEC","iter":120,"res":17.8},{"series":"SIMPLEC","iter":140,"res":14.8},{"series":"SIMPLEC","iter":165,"res":12.3},{"series":"SIMPLEC","iter":192,"res":9.6},{"series":"SIMPLEC","iter":224,"res":7.1},{"series":"SIMPLEC","iter":255,"res":5.2},{"series":"SIMPLEC","iter":286,"res":4.0},{"series":"SIMPLEC","iter":317,"res":3.0},{"series":"SIMPLEC","iter":348,"res":2.3},{"series":"SIMPLEC","iter":390,"res":1.74},{"series":"SIMPLEC","iter":452,"res":1.51},{"series":"SIMPLEC","iter":535,"res":1.23},{"series":"SIMPLEC","iter":619,"res":1.0},{"series":"SIMPLEC","iter":702,"res":0.78},{"series":"SIMPLEC","iter":806,"res":0.55},{"series":"SIMPLEC","iter":910,"res":0.39},{"series":"SIMPLEC","iter":1014,"res":0.275},{"series":"SIMPLEC","iter":1117,"res":0.18},{"series":"SIMPLEC","iter":1221,"res":0.114},{"series":"SIMPLEC","iter":1325,"res":0.071},{"series":"SIMPLEC","iter":1429,"res":0.042},{"series":"SIMPLEC","iter":1533,"res":0.025},{"series":"SIMPLEC","iter":1637,"res":0.0158},{"series":"SIMPLEC","iter":1741,"res":0.0105},{"series":"SIMPLEC","iter":1845,"res":0.0069},{"series":"SIMPLEC","iter":1949,"res":0.0049},{"series":"SIMPLEC","iter":2053,"res":0.0037},{"series":"SIMPLEC","iter":2157,"res":0.0031},{"series":"SIMPLEC","iter":2261,"res":0.0027},{"series":"SIMPLEC","iter":2365,"res":0.0024},{"series":"SIMPLEC","iter":2469,"res":0.0022},{"series":"SIMPLEC","iter":2594,"res":0.0021},
{"series":"ERP","iter":28,"res":45},{"series":"ERP","iter":47,"res":12.6},{"series":"ERP","iter":68,"res":7.8},{"series":"ERP","iter":99,"res":4.8},{"series":"ERP","iter":130,"res":3.2},{"series":"ERP","iter":172,"res":2.1},{"series":"ERP","iter":224,"res":1.66},{"series":"ERP","iter":286,"res":1.41},{"series":"ERP","iter":369,"res":1.15},{"series":"ERP","iter":452,"res":1.0},{"series":"ERP","iter":535,"res":0.81},{"series":"ERP","iter":639,"res":0.6},{"series":"ERP","iter":743,"res":0.44},{"series":"ERP","iter":847,"res":0.316},{"series":"ERP","iter":951,"res":0.224},{"series":"ERP","iter":1055,"res":0.155},{"series":"ERP","iter":1159,"res":0.107},{"series":"ERP","iter":1263,"res":0.071},{"series":"ERP","iter":1367,"res":0.047},{"series":"ERP","iter":1471,"res":0.029},{"series":"ERP","iter":1575,"res":0.018},{"series":"ERP","iter":1637,"res":0.0152},{"series":"ERP","iter":1741,"res":0.0102},{"series":"ERP","iter":1845,"res":0.0068},{"series":"ERP","iter":1949,"res":0.0048},{"series":"ERP","iter":2053,"res":0.0036},{"series":"ERP","iter":2157,"res":0.003},{"series":"ERP","iter":2261,"res":0.0026},{"series":"ERP","iter":2365,"res":0.0023},{"series":"ERP","iter":2469,"res":0.0022},{"series":"ERP","iter":2594,"res":0.0021},
{"series":"RE","iter":28,"res":45},{"series":"RE","iter":47,"res":9.5},{"series":"RE","iter":61,"res":4.3},{"series":"RE","iter":78,"res":2.45},{"series":"RE","iter":103,"res":1.66},{"series":"RE","iter":136,"res":1.38},{"series":"RE","iter":172,"res":1.2},{"series":"RE","iter":213,"res":0.93},{"series":"RE","iter":248,"res":0.63},{"series":"RE","iter":286,"res":0.32},{"series":"RE","iter":327,"res":0.166},{"series":"RE","iter":369,"res":0.093},{"series":"RE","iter":411,"res":0.047},{"series":"RE","iter":452,"res":0.0235},{"series":"RE","iter":494,"res":0.012},{"series":"RE","iter":535,"res":0.0074},{"series":"RE","iter":577,"res":0.0051},{"series":"RE","iter":619,"res":0.0037},{"series":"RE","iter":670,"res":0.0031},{"series":"RE","iter":743,"res":0.0027},{"series":"RE","iter":868,"res":0.0025},{"series":"RE","iter":1000,"res":0.0024}
],
"at": [
{"label":"SIMPLEC","iter":442,"res":4.0,"x1":344,"y1":2.6,"x2":421,"y2":3.7},
{"label":"ACM-S-ER/P","iter":868,"res":0.78,"x1":681,"y1":0.51,"x2":851,"y2":0.72},
{"label":"ACM-S-RE","iter":643,"res":0.0091,"x1":618,"y1":0.0049,"x2":691,"y2":0.0065}
]
},
"concat": [
{"width":422,"height":311,
 "title":{"text":"u-velocity","fontSize":39,"font":"Liberation Sans","fontWeight":"normal","color":"black","anchor":"middle","frame":"group","offset":0,"baseline":"alphabetic","dx":9,"dy":79},
 "layer":[
  {"data":{"name":"u"},"mark":{"type":"line","color":"black","strokeWidth":1.8,"clip":true},
   "encoding":{
    "x":{"field":"iter","type":"quantitative","title":"Iterations","scale":{"domain":[-20,1805],"nice":false,"zero":false},"axis":{"titleX":174,"tickCount":100,"labelOverlap":false,"labelFontSize":{"condition":{"test":"datum.value % 500 !== 0","value":0},"value":19},"values":[100,200,300,400,500,600,700,800,900,1000,1100,1200,1300,1400,1500,1600,1700,1800],"labelExpr":"datum.value % 500 === 0 ? '' + datum.value : ''"}},
    "y":{"field":"res","type":"quantitative","title":"Residual","scale":{"type":"log","domain":[2.6e-5,23],"nice":false},"axis":{"tickCount":40,"labelOverlap":false,"labelExpr":"abs(log(datum.value)/LN10 - round(log(datum.value)/LN10)) < 0.001 ? '10' + replace(replace(replace(replace(replace(replace(replace(replace(replace(replace(replace('' + round(log(datum.value)/LN10), '-', '⁻'), '0', '⁰'), '1', '¹'), '2', '²'), '3', '³'), '4', '⁴'), '5', '⁵'), '6', '⁶'), '7', '⁷'), '8', '⁸'), '9', '⁹') : ''"}},
    "detail":{"field":"series","type":"nominal"}}},
  {"data":{"name":"bu"},"mark":{"type":"rect","color":"black","clip":true},
   "encoding":{"x":{"field":"from","type":"quantitative","title":"Iterations","scale":{"domain":[-20,1805],"nice":false,"zero":false}},"x2":{"field":"to"},"y":{"field":"lo","type":"quantitative","title":"Residual","scale":{"type":"log","domain":[2.6e-5,23],"nice":false}},"y2":{"field":"hi"}}},
  {"data":{"name":"au"},"mark":{"type":"rule","color":"black","strokeWidth":1.3},
   "encoding":{"x":{"field":"x1","type":"quantitative","title":"Iterations","scale":{"domain":[-20,1805],"nice":false,"zero":false}},"y":{"field":"y1","type":"quantitative","title":"Residual","scale":{"type":"log","domain":[2.6e-5,23],"nice":false}},"x2":{"field":"x2"},"y2":{"field":"y2"}}},
  {"data":{"name":"au"},"mark":{"type":"text","align":"left","baseline":"middle","fontSize":19,"font":"Liberation Sans","color":"black"},
   "encoding":{"x":{"field":"iter","type":"quantitative","title":"Iterations","scale":{"domain":[-20,1805],"nice":false,"zero":false}},"y":{"field":"res","type":"quantitative","title":"Residual","scale":{"type":"log","domain":[2.6e-5,23],"nice":false}},"text":{"field":"label"}}}
 ]},
{"width":435,"height":311,
 "title":{"text":"v-velocity","fontSize":39,"font":"Liberation Sans","fontWeight":"normal","color":"black","anchor":"middle","frame":"group","offset":0,"baseline":"alphabetic","dx":56,"dy":86},
 "layer":[
  {"data":{"name":"v"},"mark":{"type":"line","color":"black","strokeWidth":1.8,"clip":true},
   "encoding":{
    "x":{"field":"iter","type":"quantitative","title":"Iterations","scale":{"domain":[13,1821],"nice":false,"zero":false},"axis":{"titleX":189,"tickCount":100,"labelOverlap":false,"labelFontSize":{"condition":{"test":"datum.value % 500 !== 0","value":0},"value":19},"values":[100,200,300,400,500,600,700,800,900,1000,1100,1200,1300,1400,1500,1600,1700,1800],"labelExpr":"datum.value % 500 === 0 ? '' + datum.value : ''"}},
    "y":{"field":"res","type":"quantitative","title":"Residual","scale":{"type":"log","domain":[8.3e-6,9.8],"nice":false},"axis":{"tickCount":40,"labelOverlap":false,"labelExpr":"abs(log(datum.value)/LN10 - round(log(datum.value)/LN10)) < 0.001 ? '10' + replace(replace(replace(replace(replace(replace(replace(replace(replace(replace(replace('' + round(log(datum.value)/LN10), '-', '⁻'), '0', '⁰'), '1', '¹'), '2', '²'), '3', '³'), '4', '⁴'), '5', '⁵'), '6', '⁶'), '7', '⁷'), '8', '⁸'), '9', '⁹') : ''"}},
    "detail":{"field":"series","type":"nominal"}}},
  {"data":{"name":"bv"},"mark":{"type":"rect","color":"black","clip":true},
   "encoding":{"x":{"field":"from","type":"quantitative","title":"Iterations","scale":{"domain":[13,1821],"nice":false,"zero":false}},"x2":{"field":"to"},"y":{"field":"lo","type":"quantitative","title":"Residual","scale":{"type":"log","domain":[8.3e-6,9.8],"nice":false}},"y2":{"field":"hi"}}},
  {"data":{"name":"av"},"mark":{"type":"rule","color":"black","strokeWidth":1.3},
   "encoding":{"x":{"field":"x1","type":"quantitative","title":"Iterations","scale":{"domain":[13,1821],"nice":false,"zero":false}},"y":{"field":"y1","type":"quantitative","title":"Residual","scale":{"type":"log","domain":[8.3e-6,9.8],"nice":false}},"x2":{"field":"x2"},"y2":{"field":"y2"}}},
  {"data":{"name":"av"},"mark":{"type":"text","align":"left","baseline":"middle","fontSize":19,"font":"Liberation Sans","color":"black"},
   "encoding":{"x":{"field":"iter","type":"quantitative","title":"Iterations","scale":{"domain":[13,1821],"nice":false,"zero":false}},"y":{"field":"res","type":"quantitative","title":"Residual","scale":{"type":"log","domain":[8.3e-6,9.8],"nice":false}},"text":{"field":"label"}}}
 ]},
{"width":422,"height":311,
 "title":{"text":"Velocity Potential","fontSize":39,"font":"Liberation Sans","fontWeight":"normal","color":"black","anchor":"middle","frame":"group","offset":0,"baseline":"alphabetic","dx":44,"dy":63},
 "layer":[
  {"data":{"name":"vp"},"mark":{"type":"line","color":"black","strokeWidth":1.8,"clip":true},
   "encoding":{
    "x":{"field":"iter","type":"quantitative","title":"Iterations","scale":{"domain":[-26,1812],"nice":false,"zero":false},"axis":{"tickCount":100,"labelOverlap":false,"labelFontSize":{"condition":{"test":"datum.value % 500 !== 0","value":0},"value":19},"values":[100,200,300,400,500,600,700,800,900,1000,1100,1200,1300,1400,1500,1600,1700,1800],"labelExpr":"datum.value % 500 === 0 ? '' + datum.value : ''"}},
    "y":{"field":"res","type":"quantitative","title":"Residual","scale":{"type":"log","domain":[5.2e-7,0.62],"nice":false},"axis":{"tickCount":40,"labelOverlap":false,"labelExpr":"abs(log(datum.value)/LN10 - round(log(datum.value)/LN10)) < 0.001 ? '10' + replace(replace(replace(replace(replace(replace(replace(replace(replace(replace(replace('' + round(log(datum.value)/LN10), '-', '⁻'), '0', '⁰'), '1', '¹'), '2', '²'), '3', '³'), '4', '⁴'), '5', '⁵'), '6', '⁶'), '7', '⁷'), '8', '⁸'), '9', '⁹') : ''"}},
    "detail":{"field":"series","type":"nominal"}}},
  {"data":{"name":"bvp"},"mark":{"type":"rect","color":"black","clip":true},
   "encoding":{"x":{"field":"from","type":"quantitative","title":"Iterations","scale":{"domain":[-26,1812],"nice":false,"zero":false}},"x2":{"field":"to"},"y":{"field":"lo","type":"quantitative","title":"Residual","scale":{"type":"log","domain":[5.2e-7,0.62],"nice":false}},"y2":{"field":"hi"}}},
  {"data":{"name":"avp"},"mark":{"type":"rule","color":"black","strokeWidth":1.3},
   "encoding":{"x":{"field":"x1","type":"quantitative","title":"Iterations","scale":{"domain":[-26,1812],"nice":false,"zero":false}},"y":{"field":"y1","type":"quantitative","title":"Residual","scale":{"type":"log","domain":[5.2e-7,0.62],"nice":false}},"x2":{"field":"x2"},"y2":{"field":"y2"}}},
  {"data":{"name":"avp"},"mark":{"type":"text","align":"left","baseline":"middle","fontSize":19,"font":"Liberation Sans","color":"black"},
   "encoding":{"x":{"field":"iter","type":"quantitative","title":"Iterations","scale":{"domain":[-26,1812],"nice":false,"zero":false}},"y":{"field":"res","type":"quantitative","title":"Residual","scale":{"type":"log","domain":[5.2e-7,0.62],"nice":false}},"text":{"field":"label"}}}
 ]},
{"width":435,"height":311,
 "title":{"text":"Turbulent Kinetic Energy","fontSize":39,"font":"Liberation Sans","fontWeight":"normal","color":"black","anchor":"middle","frame":"group","offset":0,"baseline":"alphabetic","dx":45,"dy":62},
 "layer":[
  {"data":{"name":"tke"},"mark":{"type":"line","color":"black","strokeWidth":1.8,"clip":true},
   "encoding":{
    "x":{"field":"iter","type":"quantitative","title":"Iterations","scale":{"domain":[20,1795],"nice":false,"zero":false},"axis":{"tickCount":100,"labelOverlap":false,"labelFontSize":{"condition":{"test":"datum.value % 500 !== 0","value":0},"value":19},"values":[100,200,300,400,500,600,700,800,900,1000,1100,1200,1300,1400,1500,1600,1700],"labelExpr":"datum.value % 500 === 0 ? '' + datum.value : ''"}},
    "y":{"field":"res","type":"quantitative","title":"Residual","scale":{"type":"log","domain":[3.1e-5,41],"nice":false},"axis":{"tickCount":40,"labelOverlap":false,"labelExpr":"abs(log(datum.value)/LN10 - round(log(datum.value)/LN10)) < 0.001 ? '10' + replace(replace(replace(replace(replace(replace(replace(replace(replace(replace(replace('' + round(log(datum.value)/LN10), '-', '⁻'), '0', '⁰'), '1', '¹'), '2', '²'), '3', '³'), '4', '⁴'), '5', '⁵'), '6', '⁶'), '7', '⁷'), '8', '⁸'), '9', '⁹') : ''"}},
    "detail":{"field":"series","type":"nominal"}}},
  {"data":{"name":"btke"},"mark":{"type":"rect","color":"black","clip":true},
   "encoding":{"x":{"field":"from","type":"quantitative","title":"Iterations","scale":{"domain":[20,1795],"nice":false,"zero":false}},"x2":{"field":"to"},"y":{"field":"lo","type":"quantitative","title":"Residual","scale":{"type":"log","domain":[3.1e-5,41],"nice":false}},"y2":{"field":"hi"}}},
  {"data":{"name":"atke"},"mark":{"type":"rule","color":"black","strokeWidth":1.3},
   "encoding":{"x":{"field":"x1","type":"quantitative","title":"Iterations","scale":{"domain":[20,1795],"nice":false,"zero":false}},"y":{"field":"y1","type":"quantitative","title":"Residual","scale":{"type":"log","domain":[3.1e-5,41],"nice":false}},"x2":{"field":"x2"},"y2":{"field":"y2"}}},
  {"data":{"name":"atke"},"mark":{"type":"text","align":"left","baseline":"middle","fontSize":19,"font":"Liberation Sans","color":"black"},
   "encoding":{"x":{"field":"iter","type":"quantitative","title":"Iterations","scale":{"domain":[20,1795],"nice":false,"zero":false}},"y":{"field":"res","type":"quantitative","title":"Residual","scale":{"type":"log","domain":[3.1e-5,41],"nice":false}},"text":{"field":"label"}}}
 ]},
{"width":422,"height":311,
 "title":{"text":"Turbulent Dissipation","fontSize":39,"font":"Liberation Sans","fontWeight":"normal","color":"black","anchor":"middle","frame":"group","offset":0,"baseline":"alphabetic","dx":34,"dy":53},
 "layer":[
  {"data":{"name":"td"},"mark":{"type":"line","color":"black","strokeWidth":1.8,"clip":true},
   "encoding":{
    "x":{"field":"iter","type":"quantitative","title":"Iterations","scale":{"domain":[-4,1817],"nice":false,"zero":false},"axis":{"tickCount":100,"labelOverlap":false,"labelFontSize":{"condition":{"test":"datum.value % 500 !== 0","value":0},"value":19},"values":[100,200,300,400,500,600,700,800,900,1000,1100,1200,1300,1400,1500,1600,1700,1800],"labelExpr":"datum.value % 500 === 0 ? '' + datum.value : ''"}},
    "y":{"field":"res","type":"quantitative","title":"Residual","scale":{"type":"log","domain":[12.4,1.35e9],"nice":false},"axis":{"tickCount":40,"labelOverlap":false,"labelExpr":"abs(log(datum.value)/LN10 - round(log(datum.value)/LN10)) < 0.001 ? '10' + replace(replace(replace(replace(replace(replace(replace(replace(replace(replace(replace('' + round(log(datum.value)/LN10), '-', '⁻'), '0', '⁰'), '1', '¹'), '2', '²'), '3', '³'), '4', '⁴'), '5', '⁵'), '6', '⁶'), '7', '⁷'), '8', '⁸'), '9', '⁹') : ''"}},
    "detail":{"field":"series","type":"nominal"}}},
  {"data":{"name":"btd"},"mark":{"type":"rect","color":"black","opacity":0.85,"clip":true},
   "encoding":{"x":{"field":"from","type":"quantitative","title":"Iterations","scale":{"domain":[-4,1817],"nice":false,"zero":false}},"x2":{"field":"to"},"y":{"field":"lo","type":"quantitative","title":"Residual","scale":{"type":"log","domain":[12.4,1.35e9],"nice":false}},"y2":{"field":"hi"}}},
  {"data":{"name":"atd"},"mark":{"type":"rule","color":"black","strokeWidth":1.3},
   "encoding":{"x":{"field":"x1","type":"quantitative","title":"Iterations","scale":{"domain":[-4,1817],"nice":false,"zero":false}},"y":{"field":"y1","type":"quantitative","title":"Residual","scale":{"type":"log","domain":[12.4,1.35e9],"nice":false}},"x2":{"field":"x2"},"y2":{"field":"y2"}}},
  {"data":{"name":"atd"},"mark":{"type":"text","align":"left","baseline":"middle","fontSize":19,"font":"Liberation Sans","color":"black"},
   "encoding":{"x":{"field":"iter","type":"quantitative","title":"Iterations","scale":{"domain":[-4,1817],"nice":false,"zero":false}},"y":{"field":"res","type":"quantitative","title":"Residual","scale":{"type":"log","domain":[12.4,1.35e9],"nice":false}},"text":{"field":"label"}}}
 ]},
{"width":435,"height":311,
 "title":{"text":"Temperature","fontSize":39,"font":"Liberation Sans","fontWeight":"normal","color":"black","anchor":"middle","frame":"group","offset":0,"baseline":"alphabetic","dx":38,"dy":60},
 "layer":[
  {"data":{"name":"t"},"mark":{"type":"line","color":"black","strokeWidth":1.8,"clip":true},
   "encoding":{
    "x":{"field":"iter","type":"quantitative","title":"Iterations","scale":{"domain":[26,2604],"nice":false,"zero":false},"axis":{"tickCount":100,"labelOverlap":false,"labelFontSize":{"condition":{"test":"datum.value % 500 !== 0","value":0},"value":19},"values":[100,200,300,400,500,600,700,800,900,1000,1100,1200,1300,1400,1500,1600,1700,1800,1900,2000,2100,2200,2300,2400,2500,2600],"labelExpr":"datum.value % 500 === 0 ? '' + datum.value : ''"}},
    "y":{"field":"res","type":"quantitative","title":"Residual","scale":{"type":"log","domain":[2.05e-3,615],"nice":false},"axis":{"tickCount":40,"labelOverlap":false,"labelExpr":"abs(log(datum.value)/LN10 - round(log(datum.value)/LN10)) < 0.001 ? '10' + replace(replace(replace(replace(replace(replace(replace(replace(replace(replace(replace('' + round(log(datum.value)/LN10), '-', '⁻'), '0', '⁰'), '1', '¹'), '2', '²'), '3', '³'), '4', '⁴'), '5', '⁵'), '6', '⁶'), '7', '⁷'), '8', '⁸'), '9', '⁹') : ''"}},
    "detail":{"field":"series","type":"nominal"}}},
  {"data":{"name":"at"},"mark":{"type":"rule","color":"black","strokeWidth":1.3},
   "encoding":{"x":{"field":"x1","type":"quantitative","title":"Iterations","scale":{"domain":[26,2604],"nice":false,"zero":false}},"y":{"field":"y1","type":"quantitative","title":"Residual","scale":{"type":"log","domain":[2.05e-3,615],"nice":false}},"x2":{"field":"x2"},"y2":{"field":"y2"}}},
  {"data":{"name":"at"},"mark":{"type":"text","align":"left","baseline":"middle","fontSize":19,"font":"Liberation Sans","color":"black"},
   "encoding":{"x":{"field":"iter","type":"quantitative","title":"Iterations","scale":{"domain":[26,2604],"nice":false,"zero":false}},"y":{"field":"res","type":"quantitative","title":"Residual","scale":{"type":"log","domain":[2.05e-3,615],"nice":false}},"text":{"field":"label"}}}
 ]}
],
"config": {
 "view": {"stroke": null},
 "font": "Liberation Sans",
 "axis": {"domainColor":"black","domainWidth":2,"tickColor":"black","tickWidth":1.2,"tickSize":-5,"labelColor":"black","labelFont":"Liberation Sans","labelFontSize":19,"labelPadding":8,"labelFlush":false,"labelBound":false,"titleFont":"Liberation Sans","titleFontSize":19,"titleFontWeight":"normal","titleColor":"black","grid":false},
 "axisX": {"titlePadding":4},
 "axisY": {"titlePadding":1}
}
}
